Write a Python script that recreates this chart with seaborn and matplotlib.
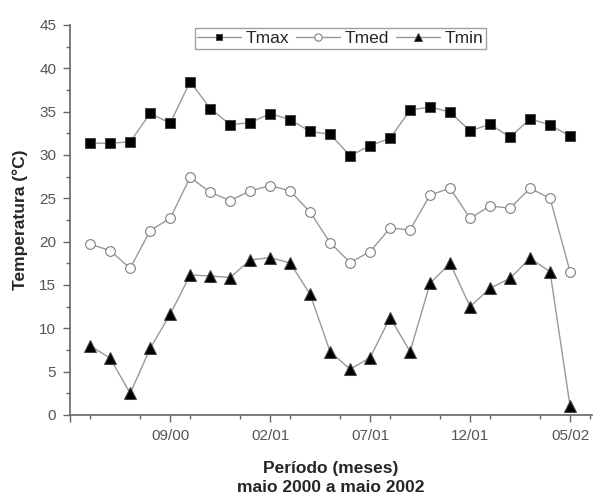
import numpy as np
import pandas as pd
import seaborn as sns
import matplotlib.pyplot as plt
from matplotlib.ticker import MultipleLocator

# monthly means, maio 2000 .. maio 2002
meses = list(range(25))
tmax = [31.35, 31.35, 31.5, 34.8, 33.65, 38.46, 35.35, 33.5, 33.7, 34.77, 34.07, 32.7, 32.38,
        29.9, 31.07, 31.92, 35.15, 35.54, 34.92, 32.77, 33.54, 32.04, 34.15, 33.46, 32.15]
tmed = [19.7, 18.96, 16.92, 21.27, 22.69, 27.42, 25.69, 24.73, 25.85, 26.46, 25.85, 23.4, 19.88,
        17.58, 18.85, 21.56, 21.35, 25.38, 26.15, 22.69, 24.11, 23.85, 26.15, 25.0, 16.54]
tmin = [8.0, 6.54, 2.5, 7.69, 11.62, 16.15, 16.04, 15.85, 17.88, 18.15, 17.54, 13.92, 7.31,
        5.27, 6.62, 11.23, 7.31, 15.19, 17.5, 12.5, 14.62, 15.77, 18.08, 16.54, 1.04]
tick_pos = [-1, 4, 9, 14, 19, 24]
tick_lab = ['', '09/00', '02/01', '07/01', '12/01', '05/02']

sns.set_style('white')
plt.rcParams['font.family'] = ['Liberation Sans', 'DejaVu Sans']

fig = plt.figure(figsize=(5.95, 4.97), dpi=100)
ax = fig.add_axes([0.118, 0.165, 0.877, 0.785])

linha = '#999999'
sns.lineplot(x=meses, y=tmax, ax=ax, color=linha, lw=1, marker='s', markersize=6.5,
             markerfacecolor='black', markeredgecolor='#444444', label='Tmax')
sns.lineplot(x=meses, y=tmed, ax=ax, color=linha, lw=1, marker='o', markersize=7,
             markerfacecolor='white', markeredgecolor='#777777', label='Tmed')
sns.lineplot(x=meses, y=tmin, ax=ax, color=linha, lw=1, marker='^', markersize=8,
             markerfacecolor='black', markeredgecolor='#444444', label='Tmin')

ax.set_xlim(-1, 25.1)
ax.set_ylim(0, 45)
ax.set_xticks(tick_pos)
ax.set_xticklabels(tick_lab)
ax.xaxis.set_minor_locator(MultipleLocator(2.5))
ax.yaxis.set_major_locator(MultipleLocator(5))
ax.yaxis.set_minor_locator(MultipleLocator(2.5))

for s in ['top', 'right']:
    ax.spines[s].set_visible(False)
for s in ['left', 'bottom']:
    ax.spines[s].set_color('#666666')
    ax.spines[s].set_linewidth(1.2)

ax.tick_params(which='both', direction='out', color='#666666', width=1,
               labelsize=11, labelcolor='#555555')
ax.tick_params(which='major', length=5, bottom=True, left=True, pad=5)
ax.tick_params(which='minor', length=3, bottom=True, left=True)

ax.set_xlabel('Período (meses)\nmaio 2000 a maio 2002', fontsize=12.5,
              fontweight='bold', labelpad=13, linespacing=1.3)
ax.set_ylabel('Temperatura (°C)', fontsize=12.5, fontweight='bold', labelpad=8)

leg = ax.legend(loc='upper center', ncol=3, fontsize=12.5, frameon=True, fancybox=False,
                borderpad=0.15, handlelength=2.5, handletextpad=0.3, columnspacing=0.4,
                borderaxespad=0.2, bbox_to_anchor=(0.518, 1.0), markerscale=0.75)
leg.get_frame().set_edgecolor('#888888')
leg.get_frame().set_linewidth(1)

fig.savefig('out.png', dpi=100)
